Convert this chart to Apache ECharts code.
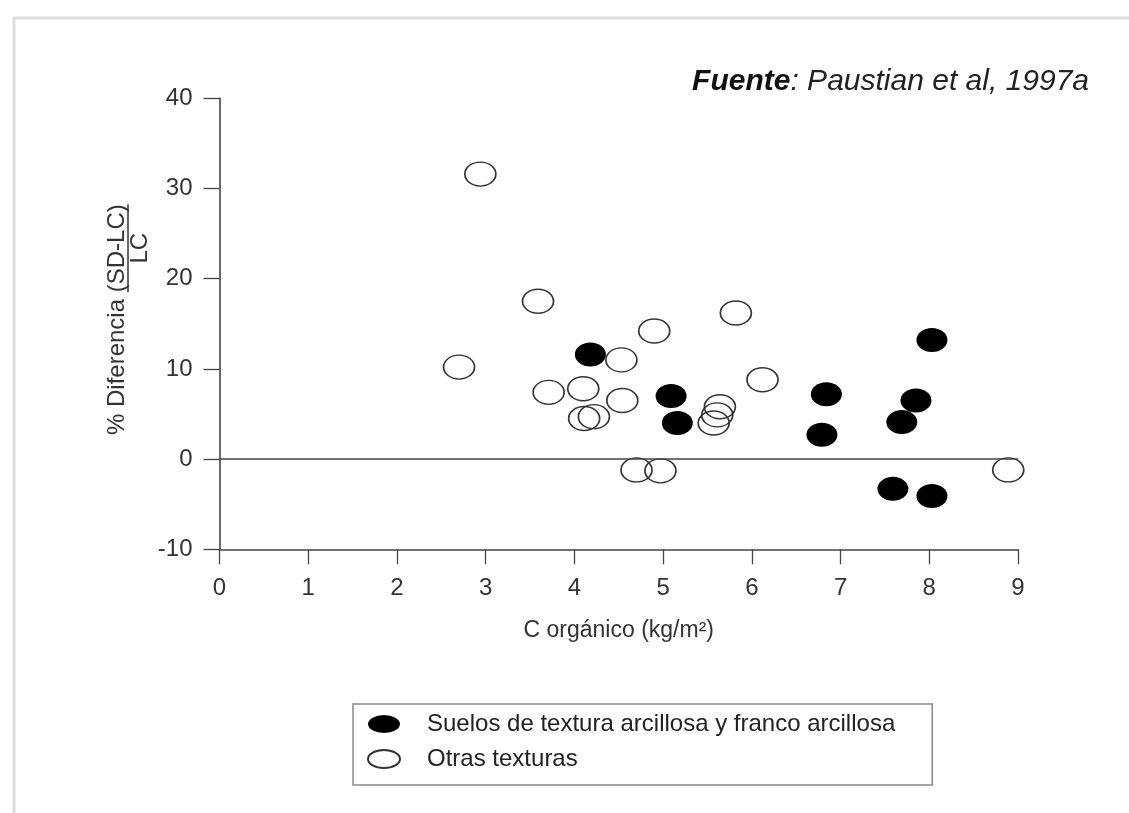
<!DOCTYPE html>
<html><head><meta charset="utf-8">
<script src="https://cdn.jsdelivr.net/npm/echarts@6/dist/echarts.min.js"></script>
<style>html,body{margin:0;padding:0;background:#fff}#c{width:1129px;height:813px}</style>
</head><body><div id="c"></div>
<script>
// ---- data ----
const seriesNames = ['Suelos de textura arcillosa y franco arcillosa', 'Otras texturas'];
const arcillosaX = [4.18, 5.09, 5.16, 6.84, 6.79, 8.03, 7.85, 7.69, 7.59, 8.03];
const arcillosaY = [11.6, 7.0, 4.0, 7.2, 2.7, 13.2, 6.5, 4.1, -3.3, -4.1];
const otrasX = [2.94, 3.59, 2.70, 3.71, 4.10, 4.11, 4.22, 4.53, 4.54, 4.90, 4.70, 4.97, 5.82, 5.64, 5.61, 5.57, 6.12, 8.89];
const otrasY = [31.6, 17.5, 10.2, 7.4, 7.8, 4.5, 4.7, 11.0, 6.5, 14.2, -1.2, -1.3, 16.2, 5.8, 4.9, 4.0, 8.8, -1.2];
const xMin = 0, xMax = 9, xStep = 1;
const yMin = -10, yMax = 40, yStep = 10;
const titleBold = 'Fuente';
const titleRest = ': Paustian et al, 1997a';
const xAxisName = 'C orgánico (kg/m²)';
const yNameMain = '% Diferencia ';
const yNameNum = '(SD-LC)';
const yNameDen = 'LC';
const referenceLineY = 0;

// ---- chart ----
const FONT = "'Liberation Sans', Arial, Helvetica, sans-serif";
const ellipse = 'path://M0,12 A15,12 0 1,1 30,12 A15,12 0 1,1 0,12 Z';
const legendEllipse = 'path://M0,9 A16,9 0 1,1 32,9 A16,9 0 1,1 0,9 Z';
const chart = echarts.init(document.getElementById('c'), null, {renderer: 'canvas'});

function zip(xs, ys) { return xs.map((x, i) => [x, ys[i]]); }

// measure for y-axis name layout
const ctx = document.createElement('canvas').getContext('2d');
ctx.font = '24px ' + FONT;
const wMain = ctx.measureText(yNameMain).width;
const wNum = ctx.measureText(yNameNum).width;

chart.setOption({
  backgroundColor: '#fff',
  animation: false,
  title: {
    text: '{b|' + titleBold + '}{r|' + titleRest + '}',
    right: 35, top: 62,
    textStyle: {
      fontWeight: 'normal',
      rich: {
        b: {fontFamily: FONT, fontSize: 30, fontWeight: 'bold', fontStyle: 'italic', color: '#111'},
        r: {fontFamily: FONT, fontSize: 30, fontWeight: 'normal', fontStyle: 'italic', color: '#222'}
      }
    }
  },
  grid: {left: 219.5, right: 111, top: 98.3, bottom: 263.7, containLabel: false},
  xAxis: {
    type: 'value', min: xMin, max: xMax, interval: xStep,
    name: xAxisName, nameLocation: 'middle', nameGap: 70,
    nameTextStyle: {fontFamily: FONT, fontSize: 23, color: '#333'},
    axisLine: {onZero: false, lineStyle: {color: '#444', width: 1.6}},
    axisTick: {inside: false, length: 15, lineStyle: {color: '#444', width: 1.3}},
    axisLabel: {margin: 27, fontFamily: FONT, fontSize: 24, color: '#333'},
    splitLine: {show: false}
  },
  yAxis: {
    type: 'value', min: yMin, max: yMax, interval: yStep,
    axisLine: {show: true, onZero: false, lineStyle: {color: '#444', width: 1.6}},
    axisTick: {show: true, inside: false, length: 16, lineStyle: {color: '#444', width: 1.3}},
    axisLabel: {margin: 27, fontFamily: FONT, fontSize: 24, color: '#333'},
    splitLine: {show: false}
  },
  legend: {
    orient: 'vertical', left: 353, top: 704,
    padding: [8, 37, 14, 14],
    itemWidth: 32, itemHeight: 18, itemGap: 11,
    borderColor: '#8a8a8a', borderWidth: 1.5,
    textStyle: {fontFamily: FONT, fontSize: 24, color: '#222', padding: [0, 0, 0, 22]},
    data: [
      {name: seriesNames[0], icon: legendEllipse},
      {name: seriesNames[1], icon: legendEllipse}
    ]
  },
  graphic: [
    {type: 'rect', shape: {x: 14, y: 18, width: 1300, height: 1000}, style: {fill: 'none', stroke: '#dcdcdc', lineWidth: 3}, silent: true},
    {
      type: 'group', x: 117, y: 435, rotation: Math.PI / 2, silent: true,
      children: [
        {type: 'text', x: 0, y: 0, style: {text: yNameMain + yNameNum, font: '24px ' + FONT, fill: '#333', align: 'left', verticalAlign: 'middle'}},
        {type: 'line', shape: {x1: wMain, y1: 11, x2: wMain + wNum, y2: 11}, style: {stroke: '#333', lineWidth: 1.5}},
        {type: 'text', x: wMain + wNum / 2, y: 23, style: {text: yNameDen, font: '24px ' + FONT, fill: '#333', align: 'center', verticalAlign: 'middle'}}
      ]
    }
  ],
  series: [
    {
      name: seriesNames[0], type: 'scatter',
      symbol: ellipse, symbolSize: [31, 24],
      itemStyle: {color: '#000', borderColor: '#000', borderWidth: 0, opacity: 1},
      data: zip(arcillosaX, arcillosaY), z: 3,
      markLine: {
        silent: true, symbol: ['none', 'none'], label: {show: false},
        lineStyle: {color: '#444', width: 1.6, type: 'solid'},
        data: [{yAxis: referenceLineY}]
      }
    },
    {
      name: seriesNames[1], type: 'scatter',
      symbol: ellipse, symbolSize: [31, 24],
      itemStyle: {color: 'rgba(255,255,255,0)', borderColor: '#333', borderWidth: 1.5, opacity: 1},
      data: zip(otrasX, otrasY), z: 4
    }
  ]
});
</script></body></html>
